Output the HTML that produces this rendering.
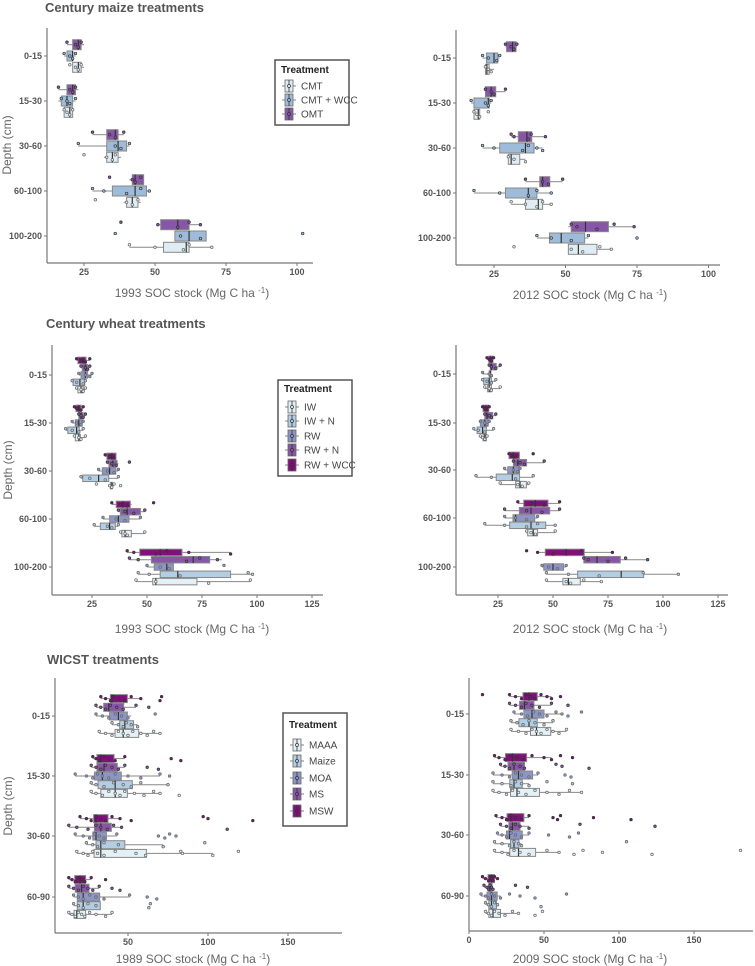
<!DOCTYPE html>
<html><head><meta charset="utf-8">
<style>
html,body{margin:0;padding:0;background:#fff;}
svg{display:block;font-family:"Liberation Sans",sans-serif;}
.tk{font-size:9px;font-weight:bold;fill:#555;}
.ttl{font-size:13px;font-weight:bold;fill:#555;}
.axl{font-size:12px;fill:#666;}
.lgt{font-size:10px;font-weight:bold;fill:#222;}
.lgl{font-size:10px;fill:#444;}
</style></head>
<body>
<svg id="fig" width="755" height="966" viewBox="0 0 755 966" xmlns="http://www.w3.org/2000/svg"></svg>
<script>
// ---------- data: each entry = [whiskerLow, q1, median, q3, whiskerHigh, [points]] ----------
const centuryDepths = ["0-15","15-30","30-60","60-100","100-200"];
const wicstDepths = ["0-15","15-30","30-60","60-90"];
const maizeTrt = ["CMT","CMT + WCC","OMT"];
const wheatTrt = ["IW","IW + N","RW","RW + N","RW + WCC"];
const wicstTrt = ["MAAA","Maize","MOA","MS","MSW"];
const maizeTicks = [25,50,75,100];
const wheatTicks = [25,50,75,100,125];
const wicstTicks89 = [50,100,150];
const wicstTicks09 = [0,50,100,150];

const m93_CMT = [[21,21,23,24,25,[20,22,23,24]],[18,18,20,21,21,[18,19,20,21]],[32,33,35,37,38,[25,33,35,36]],[39,40,42,44,45,[29,40,42,44]],[41,53,61,62,70,[41,50,60,62,70]]];
const m93_WCC = [[18,19,21,21,22,[18,20,21,22]],[16,17,19,21,22,[17,19,20,22]],[23,33,37,40,41,[23,36,38,41]],[28,35,43,47,48,[28,32,40,45,48]],[57,57,62,68,68,[36,59,66,102]]];
const m93_OMT = [[19,21,23,24,25,[19,22,23,24]],[16,19,21,22,23,[16,20,21,22]],[28,33,36,37,39,[28,34,36,39]],[41,42,43,46,46,[34,42,43,45]],[51,52,58,62,66,[38,51,58,62,66]]];

const m12_CMT = [[22,22,22.5,23.3,25,[22,23,24]],[18,18,19.5,20,20,[18,19,20,23]],[30,30,31,34,36,[30,32,36]],[31,36,40.5,42,45,[31,36,40,42,45]],[51,51,54.5,61,66,[32,52,56,62,66]]];
const m12_WCC = [[21,22.4,25,26.3,27,[21,23,26,27]],[17,18,23,23.3,24,[17,22,23,24]],[21,27,36,39,42,[21,25,35,37,40,42]],[18,29,37,40,45,[18,27,37,40,45]],[40,44.4,48.5,56.7,58,[40,45,52,58,75]]];
const m12_OMT = [[29,29.4,31.5,32.7,33,[29,31,32,33]],[22,22,24,25.6,29,[22,24,25,29]],[31,33.5,36.5,38.2,43,[31,32,37,38,43]],[36,41,42,44.5,49,[36,42,44,49]],[51,52,57,65,74,[52,54,61,67,74]]];

const w93_IW = [[18,18.6,20,21,22,[18,20,21,22]],[17,17.4,19,19.7,22,[17,19,20,22]],[33,33.3,34,34.2,35,[27,33,34,35,38]],[38,38.6,40,42.9,49,[38,40,41,49]],[45,52.6,54,72.7,97,[45,54,78,97]]];
const w93_IWN = [[16,16.4,19.5,21.7,22,[16,18,21,22]],[13,14,18,19.2,21,[13,16,19,21]],[20,20.8,28,32.6,37,[20,24,31,37]],[26,28.8,33,35.6,37,[26,32,34,37]],[46,56,64,88,98,[46,51,65,96,98]]];
const w93_RW = [[19,20,22,23,25,[19,22,24,25]],[16,17.4,19,20.5,21,[16,18,20,21]],[28,29.7,33,35.8,37,[28,32,35,37]],[30,33,37,41.8,47,[30,36,40,47]],[50,53.3,59,62,62,[50,56,60,85]]];
const w93_RWN = [[20,20.6,22,23,24,[20,22,23,24]],[19,19,20,21,22,[19,20,21,22]],[32,32.7,34.5,36.4,37,[32,34,36,42]],[37,37.9,41,47,49,[37,40,44,49]],[42,52,71,78.5,84,[42,46,68,74,82]]];
const w93_RWC = [[18,18.6,21,22.3,24,[18,20,22,24]],[17,17.7,19,20,21,[17,18,20,21]],[31,31.8,34,35.9,35,[31,33,35]],[34,36,39,42.4,43,[34,38,41,53]],[41,46.7,56,65.9,88,[41,44,54,59,69,88]]];

const w12_IW = [[19,20.3,21,22,26,[19,21,22,26]],[17,18.2,19,19.7,20,[17,18,19,20]],[26,33,35,37.9,39,[26,34,36,39]],[38,38.5,41,43,51,[38,40,42,51]],[47,54.5,57,62.4,72,[47,56,58,64,72]]];
const w12_IWN = [[18,18.5,21,22,24,[18,20,22,24]],[14,15.5,18,19.7,23,[14,16,19,23]],[15,24.2,31.5,34.8,41,[15,22,33,41]],[19,30.3,40,46.7,51,[19,28,38,43,51]],[47,61.2,81,91.2,107,[47,57,71,91,107]]];
const w12_RW = [[18,21,21.5,21.8,22,[18,21,22]],[17,17,19,20.5,21,[17,19,20,21]],[28,29.4,32,34.8,35,[28,32,34,35]],[28,31.8,33,41.7,43,[28,33,38,43]],[45,45.8,50,54.8,56,[45,48,52,56]]];
const w12_RWN = [[21,21.5,22,24.2,26,[21,22,24,26]],[19,19,20,22.6,24,[19,21,22,24]],[32,32,34,38,46,[32,35,37,46]],[28,34.7,40,48.5,53,[28,38,45,53]],[64,64,70,80.6,93,[64,66,75,83,93]]];
const w12_RWC = [[20,20.8,21.5,22.7,23,[20,21,22,23]],[18,18.2,19.5,20.8,21,[18,19,20,21]],[30,30,32,34.7,35,[30,31,33,41]],[34,36.7,42,47.7,53,[34,40,46,53]],[43,46.5,56,64.2,77,[38,43,50,63,77]]];

const x89_MAAA = [[32,41.9,47,56.7,70,[32,36,40,44,47,50,53,58,62,66,70]],[27,33,42,49.6,70,[27,30,34,38,42,45,48,54,60,66,70,82]],[18,28.8,33,61.5,103,[18,22,25,28,31,35,42,55,61,83,84,103,119]],[13,16.3,18,23.5,40,[13,15,17,19,21,23,26,30,36,40]]];
const x89_Maize = [[40,44.8,48,53.5,56,[40,44,47,49,52,56]],[27,31.3,42,52.7,75,[27,30,35,41,47,52,58,75]],[24,30,33,48,72,[24,28,31,35,44,72,98]],[16,18.3,22,32.7,33,[16,19,22,25,30,63,64]]];
const x89_MOA = [[30,38.5,44,49.6,52,[30,34,38,42,46,50,67]],[17,29,34,45.8,70,[17,24,28,31,34,38,42,50,58,70,76]],[17,28,30,36.5,43,[17,22,26,29,32,35,43,69,73,76,80]],[16,18.3,22,32.3,51,[16,19,22,26,30,35,51,62,68]]];
const x89_MS = [[30,34.8,38,47.3,55,[30,33,36,39,43,47,55,63]],[27,30.6,35,43.3,48,[27,30,33,36,40,44,48,62,69]],[13,29,33,39.6,46,[13,18,25,30,33,37,41,46,112]],[13,17,21,25.6,32,[13,16,19,22,25,28,32,40,45]]];
const x89_MSW = [[33,39,40,49.6,58,[33,36,39,41,44,48,52,58,70,71]],[28,30.6,33,41.3,48,[28,30,32,35,38,42,48,77,83]],[20,28.5,30,37.5,45,[20,24,27,30,33,36,40,45,52,97,100,128]],[13,16.7,20,23.5,27,[13,15,17,19,21,23,27,36]]];

const x09_MAAA = [[28,41,45,54.5,65,[28,33,38,42,45,48,52,56,60,65]],[16,27.7,32,47,75,[16,20,25,29,33,38,44,52,60,67,75]],[17,27.2,33,44.4,60,[17,22,26,30,34,40,52,60,70,76,89,122,181]],[11,13.2,16,21,33,[11,13,15,17,20,24,29,33,44,49]]];
const x09_Maize = [[28,33.3,40,45.5,56,[28,32,36,40,44,50,56]],[16,27.2,30,35.5,40,[16,22,28,31,35,40,52,69]],[17,27.7,30,33.3,35,[17,22,27,30,33,35,105]],[11,13.2,15,18.3,19,[11,13,15,17,19,48]]];
const x09_MOA = [[30,36.6,42,50,62,[30,35,39,43,47,52,58,62,66,75]],[16,28.8,33,42.4,46,[16,22,27,31,35,40,46,64,68]],[19,25,27,35.5,40,[19,22,25,28,31,35,40,53,67,73]],[8,12,15,18.8,21,[8,11,13,15,17,21,27,34,44,65]]];
const x09_MS = [[27,33.7,37,43.3,55,[27,31,35,38,42,47,55,66]],[21,26,30,37,37,[21,24,27,30,34,37,58,62,80]],[21,26.6,29,34,40,[21,25,28,31,34,40,74,124]],[10,13.2,14,15.4,16,[10,12,13,14,15,16,31,39]]];
const x09_MSW = [[27,36,40,45.5,55,[27,31,35,38,41,44,48,52,55,9,61]],[17,24.3,29,38.4,55,[17,20,24,28,32,36,42,50,55,61,69]],[18,25.4,28,36.6,40,[18,22,25,28,31,35,40,56,59,61,83,108]],[9,12.7,15,17,19,[9,11,13,14,15,16,17,19]]];

const maizeColors = ["#e0ecf4","#9ebcda","#8856a7"];
const fiveColors = ["#e3f0f6","#b3cde3","#8c96c6","#8856a7","#810f7c"];

// ---------- rendering ----------
const NS = "http://www.w3.org/2000/svg";
const svg = document.getElementById("fig");
function mk(tag, attrs, parent){
  const e = document.createElementNS(NS, tag);
  for (const k in attrs) e.setAttribute(k, attrs[k]);
  (parent || svg).appendChild(e);
  return e;
}
function slug(s){return s.toLowerCase().replace(/\+/g,"plus").replace(/[^a-z0-9]+/g,"-").replace(/^-|-$/g,"");}

function drawPanel(p){
  const g = mk("g", {});
  
  
  const xs = v => p.x0 + (v - p.v0) * p.k;
  // axes
  const ya = mk("line", {x1:p.ax, y1:p.top, x2:p.ax, y2:p.bottom, stroke:"#777", "stroke-width":1.2}, g);
  
  
  const xa = mk("line", {x1:p.ax, y1:p.bottom, x2:p.right, y2:p.bottom, stroke:"#777", "stroke-width":1.2}, g);
  
  
  p.ticks.forEach(t=>{
    const x = xs(t);
    mk("line",{x1:x,y1:p.bottom,x2:x,y2:p.bottom+3,stroke:"#777","stroke-width":1},g);
    const tx = mk("text",{x:x,y:p.bottom+12,"text-anchor":"middle",class:"tk"},g);
    tx.textContent = t;
    
    
  });
  p.cats.forEach((c,ci)=>{
    const y = p.catY[ci];
    mk("line",{x1:p.ax-3,y1:y,x2:p.ax,y2:y,stroke:"#777","stroke-width":1},g);
    const tx = mk("text",{x:p.ax-5,y:y+3,"text-anchor":"end",class:"tk"},g);
    tx.textContent = c;
    
    
  });
  // boxes
  const n = p.series.length, mid = (n-1)/2;
  p.series.forEach((ser, si)=>{
    const col = p.colors[si];
    const dark = si >= n-2 && n===5 ? "#333" : "#777";
    ser.forEach((d, ci)=>{
      const yc = p.catY[ci] + (mid - si) * p.sp;
      const h = p.bh;
      const bg = mk("g",{},g);
      
      
      mk("line",{x1:xs(d[0]),y1:yc,x2:xs(d[1]),y2:yc,stroke:"#888","stroke-width":1},bg);
      mk("line",{x1:xs(d[3]),y1:yc,x2:xs(d[4]),y2:yc,stroke:"#888","stroke-width":1},bg);
      mk("rect",{x:xs(d[1]),y:yc-h/2,width:Math.max(1,xs(d[3])-xs(d[1])),height:h,fill:col,stroke:"#888","stroke-width":1},bg);
      mk("line",{x1:xs(d[2]),y1:yc-h/2,x2:xs(d[2]),y2:yc+h/2,stroke:"#333","stroke-width":1.2},bg);
      d[5].forEach((v,pi)=>{
        const jy = ((pi%3)-1) * h*0.25;
        mk("circle",{cx:xs(v),cy:yc+jy,r:1.3,fill:col,stroke:si>=n-2?"#333":"#666","stroke-width":0.7},bg);
      });
    });
  });
  // title
  if (p.title){
    const t = mk("text",{x:p.titleX,y:p.titleY,class:"ttl"},g);
    t.textContent = p.title;
    
    
  }
  // x label
  const xl = mk("text",{x:p.xlX,y:p.xlY,"text-anchor":"middle",class:"axl"},g);
  
  
  xl.appendChild(document.createTextNode(p.xlabel + " (Mg C ha "));
  const sup = mk("tspan",{dy:-4,"font-size":"8px"},xl); sup.textContent = "-1";
  const cl = mk("tspan",{dy:4},xl); cl.textContent = ")";
  if (p.ylab){
    const yl = mk("text",{x:0,y:0,"text-anchor":"middle",class:"axl",transform:`translate(${p.ylab[0]},${p.ylab[1]}) rotate(-90)`},g);
    yl.textContent = "Depth (cm)";
    
    
  }
  if (p.legend){
    const L = p.legend;
    const lg = mk("g",{},g);
    
    
    mk("rect",{x:L.x,y:L.y,width:L.w,height:L.h,fill:"#fff",stroke:"#555","stroke-width":1.5},lg);
    const tt = mk("text",{x:L.x+6,y:L.ty,class:"lgt","font-size":L.fs+"px"},lg);
    tt.textContent = "Treatment";
    p.trt.forEach((name,i)=>{
      const ry = L.rows[i];
      const e = mk("g",{},lg);
      
      
      const kx = L.x+10;
      mk("line",{x1:kx-3,y1:ry,x2:kx+11,y2:ry,stroke:"#666","stroke-width":0.8},e);
      mk("rect",{x:kx,y:ry-6,width:8,height:12,fill:p.colors[i],stroke:"#666","stroke-width":0.8},e);
      mk("line",{x1:kx+4,y1:ry-6,x2:kx+4,y2:ry+6,stroke:"#333","stroke-width":0.8},e);
      mk("circle",{cx:kx+4,cy:ry,r:1.5,fill:p.colors[i],stroke:"#333","stroke-width":0.7},e);
      const lt = mk("text",{x:kx+16,y:ry+3.5,class:"lgl","font-size":L.fs+"px"},e);
      lt.textContent = name;
    });
  }
}

drawPanel({name:"panel-maize-1993",title:"Century maize treatments",titleX:45,titleY:12,
  x0:84,v0:25,k:2.84,ax:47,top:28,bottom:263,right:313,ticks:maizeTicks,
  cats:centuryDepths,catY:[56,101,146,191,236],series:[m93_CMT,m93_WCC,m93_OMT],trt:maizeTrt,colors:maizeColors,
  sp:11.3,bh:10,xlabel:"1993 SOC stock",xlX:192,xlY:297,ylab:[11,145],
  legend:{x:275,y:60,w:74,h:65,ty:73,rows:[86,100,114],fs:10}});
drawPanel({name:"panel-maize-2012",
  x0:494,v0:25,k:2.86,ax:456,top:30,bottom:265,right:720,ticks:maizeTicks,
  cats:centuryDepths,catY:[58,103,148,193,238],series:[m12_CMT,m12_WCC,m12_OMT],trt:maizeTrt,colors:maizeColors,
  sp:11.3,bh:10,xlabel:"2012 SOC stock",xlX:590,xlY:299});
drawPanel({name:"panel-wheat-1993",title:"Century wheat treatments",titleX:46,titleY:328,
  x0:92,v0:25,k:2.2,ax:52,top:345,bottom:595,right:323,ticks:wheatTicks,
  cats:centuryDepths,catY:[375,423,471,519,567],series:[w93_IW,w93_IWN,w93_RW,w93_RWN,w93_RWC],trt:wheatTrt,colors:fiveColors,
  sp:7.3,bh:6.5,xlabel:"1993 SOC stock",xlX:192,xlY:633,ylab:[12,470],
  legend:{x:278,y:380,w:74,h:96,ty:392,rows:[407,421,436,450,465],fs:10}});
drawPanel({name:"panel-wheat-2012",
  x0:498,v0:25,k:2.2,ax:456,top:345,bottom:595,right:728,ticks:wheatTicks,
  cats:centuryDepths,catY:[374,423,470,518,567],series:[w12_IW,w12_IWN,w12_RW,w12_RWN,w12_RWC],trt:wheatTrt,colors:fiveColors,
  sp:7.3,bh:6.5,xlabel:"2012 SOC stock",xlX:590,xlY:633});
drawPanel({name:"panel-wicst-1989",title:"WICST treatments",titleX:47,titleY:664,
  x0:48,v0:0,k:1.6,ax:55,top:678,bottom:933,right:342,ticks:wicstTicks89,
  cats:wicstDepths,catY:[716,776,836,897],series:[x89_MAAA,x89_Maize,x89_MOA,x89_MS,x89_MSW],trt:wicstTrt,colors:fiveColors,
  sp:8.7,bh:8,xlabel:"1989 SOC stock",xlX:193,xlY:963,ylab:[12,806],
  legend:{x:283,y:713,w:64,h:113,ty:728,rows:[745,761,778,794,811],fs:11}});
drawPanel({name:"panel-wicst-2009",
  x0:469,v0:0,k:1.5,ax:469,top:678,bottom:931,right:753,ticks:wicstTicks09,
  cats:wicstDepths,catY:[714,775,835,896],series:[x09_MAAA,x09_Maize,x09_MOA,x09_MS,x09_MSW],trt:wicstTrt,colors:fiveColors,
  sp:8.7,bh:8,xlabel:"2009 SOC stock",xlX:590,xlY:963});
</script>
</body></html>
